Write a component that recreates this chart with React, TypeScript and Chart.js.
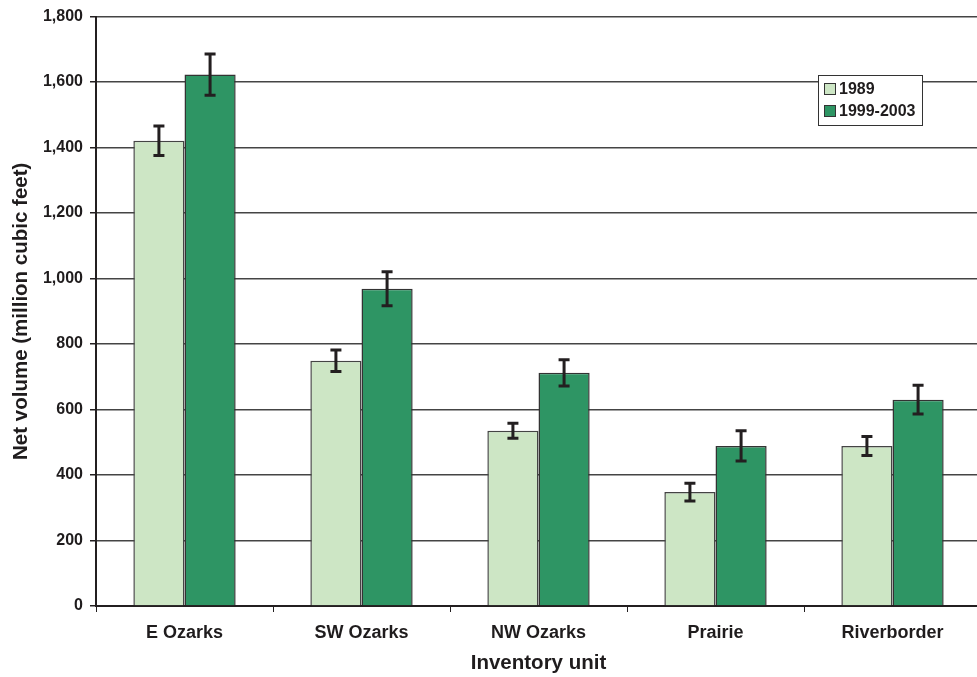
import React, { useEffect, useRef } from "react";
import { Chart, registerables } from "chart.js";

Chart.register(...registerables);

const categories = ["E Ozarks", "SW Ozarks", "NW Ozarks", "Prairie", "Riverborder"];
const series1989 = [1421, 749, 535, 348, 489];
const error1989 = [45, 33, 23, 27, 29];
const series1999 = [1623, 969, 712, 489, 630];
const error1999 = [63, 52, 40, 46, 44];
const seriesLabels = ["1989", "1999-2003"];

const lightGreen = "#cde6c5";
const darkGreen = "#2e9564";
const textColor = "#1f1c1d";
const fontFamily = "'Liberation Sans', Arial, sans-serif";

const errorBarPlugin = {
  id: "errorBars",
  afterDatasetsDraw(chart: any) {
    const ctx = chart.ctx;
    const y = chart.scales.y;
    chart.data.datasets.forEach((ds: any, i: number) => {
      const meta = chart.getDatasetMeta(i);
      meta.data.forEach((el: any, j: number) => {
        const v = ds.data[j];
        const e = ds.errors[j];
        const top = y.getPixelForValue(v + e);
        const bot = y.getPixelForValue(v - e);
        const x = el.x;
        ctx.save();
        ctx.strokeStyle = "#231f20";
        ctx.lineWidth = 3;
        ctx.beginPath();
        ctx.moveTo(x, top);
        ctx.lineTo(x, bot);
        ctx.moveTo(x - 5.5, top);
        ctx.lineTo(x + 5.5, top);
        ctx.moveTo(x - 5.5, bot);
        ctx.lineTo(x + 5.5, bot);
        ctx.stroke();
        ctx.restore();
      });
    });
  },
};

const legendPlugin = {
  id: "boxLegend",
  afterDraw(chart: any) {
    const ctx = chart.ctx;
    const bx = 818.5, by = 75.5, bw = 104, bh = 50;
    ctx.save();
    ctx.fillStyle = "#ffffff";
    ctx.fillRect(bx, by, bw, bh);
    ctx.strokeStyle = "#333333";
    ctx.lineWidth = 1;
    ctx.strokeRect(bx, by, bw, bh);
    const colors = [lightGreen, darkGreen];
    ctx.font = `bold 16px ${fontFamily}`;
    ctx.textBaseline = "middle";
    ctx.textAlign = "left";
    seriesLabels.forEach((lab, i) => {
      const cy = 89 + i * 22;
      ctx.fillStyle = colors[i];
      ctx.fillRect(824.5, cy - 5.5, 11, 11);
      ctx.strokeStyle = "#333333";
      ctx.strokeRect(824.5, cy - 5.5, 11, 11);
      ctx.fillStyle = textColor;
      ctx.fillText(lab, 839, cy + 1);
    });
    ctx.restore();
  },
};

export default function App() {
  const ref = useRef<HTMLCanvasElement>(null);
  useEffect(() => {
    if (!ref.current) return;
    const chart = new Chart(ref.current, {
      type: "bar",
      data: {
        labels: categories,
        datasets: [
          {
            label: seriesLabels[0],
            data: series1989,
            errors: error1989,
            backgroundColor: lightGreen,
            borderColor: "#444444",
            borderWidth: 1.5,
            categoryPercentage: 0.578,
            barPercentage: 1,
          } as any,
          {
            label: seriesLabels[1],
            data: series1999,
            errors: error1999,
            backgroundColor: darkGreen,
            borderColor: "#333333",
            borderWidth: 1.5,
            categoryPercentage: 0.578,
            barPercentage: 1,
          } as any,
        ],
      },
      options: {
        animation: false,
        responsive: false,
        layout: { padding: { left: 0, right: 2, top: 14, bottom: 0 } },
        plugins: {
          legend: { display: false },
          tooltip: { enabled: false },
        },
        scales: {
          x: {
            grid: {
              display: true,
              drawOnChartArea: false,
              drawTicks: true,
              tickLength: 6,
              tickColor: "#231f20",
              offset: true,
            },
            border: { display: true, color: "#231f20", width: 2 },
            ticks: {
              color: textColor,
              font: { family: fontFamily, size: 18, weight: "bold" },
              padding: 10,
            },
            title: {
              display: true,
              text: "Inventory unit",
              color: textColor,
              font: { family: fontFamily, size: 20.5, weight: "bold" },
              padding: { top: 1, bottom: 1 },
            },
            afterFit: (s: any) => {
              s.height = 71;
            },
          },
          y: {
            min: 0,
            max: 1800,
            grid: {
              color: "#444444",
              lineWidth: 1.5,
              tickLength: 6,
              tickColor: "#231f20",
            },
            border: { display: true, color: "#231f20", width: 2 },
            ticks: {
              stepSize: 200,
              color: textColor,
              font: { family: fontFamily, size: 16, weight: "bold" },
              padding: 7,
              callback: (v: any) => Number(v).toLocaleString("en-US"),
            },
            title: {
              display: true,
              text: "Net volume (million cubic feet)",
              color: textColor,
              font: { family: fontFamily, size: 20.5, weight: "bold" },
              padding: { top: 9, bottom: 0 },
            },
            afterFit: (s: any) => {
              s.width = 96;
            },
          },
        },
      } as any,
      plugins: [errorBarPlugin, legendPlugin],
    });
    return () => chart.destroy();
  }, []);
  return (
    <div style={{ position: "fixed", left: 0, top: 0, width: 977, height: 677, overflow: "hidden", background: "#fff" }}>
      <canvas ref={ref} width={983} height={677} style={{ display: "block" }} />
    </div>
  );
}
